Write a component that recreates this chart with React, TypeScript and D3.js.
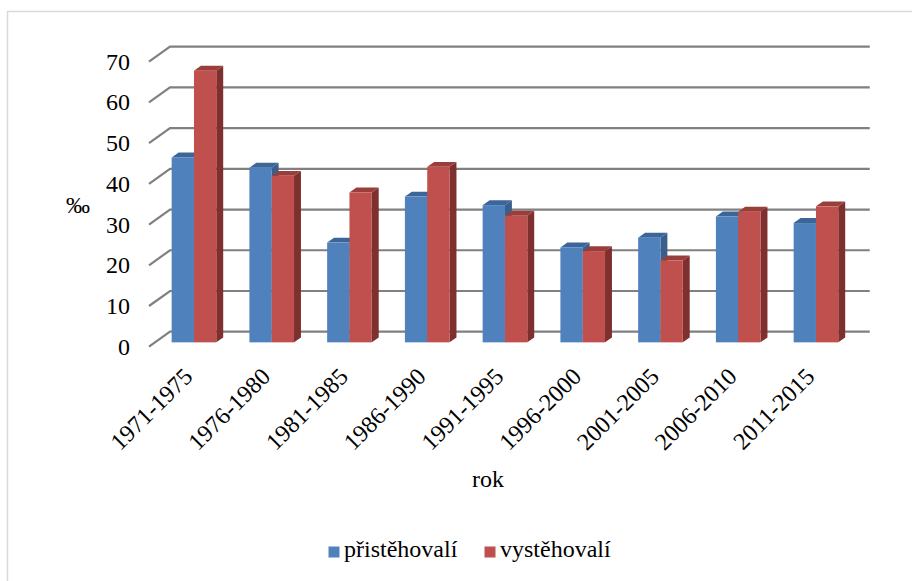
import React from "react";
import * as d3 from "d3";

const categories = ["1971-1975", "1976-1980", "1981-1985", "1986-1990", "1991-1995", "1996-2000", "2001-2005", "2006-2010", "2011-2015"];
const immigrants = [45.4, 42.9, 24.5, 35.8, 33.7, 23.3, 25.7, 30.9, 29.3];
const emigrants = [66.7, 40.9, 36.8, 43.1, 31.1, 22.4, 20.1, 32.1, 33.4];
const seriesNames = ["přistěhovalí", "vystěhovalí"];
const yTicks = [0, 10, 20, 30, 40, 50, 60, 70];

const W = 912;
const H = 581;
const FONT = "Liberation Serif";

const colors = {
  front: ["#4F81BD", "#C0504D"],
  top: ["#3C6699", "#993E3B"],
  side: ["#3A5F8C", "#7D302E"],
};

export default function App() {
  const DX = 21;
  const DY = -15;
  const fFront = 0.29;
  const fBack = 0.62;

  const x = d3.scaleBand<string>().domain(categories).range([149, 848.75]).padding(0);
  const y = d3.scaleLinear().domain([0, 70]).range([346.7, 61.7]);
  const groupW = x.bandwidth() * 0.574;
  const inner = d3.scaleBand<string>().domain(seriesNames).range([0, groupW]).padding(0);

  const bdx = DX * (fBack - fFront);
  const bdy = DY * (fBack - fFront);

  const series = [immigrants, emigrants];

  const bars: any[] = [];
  categories.forEach((c, i) => {
    const gx = (x(c) as number) + (x.bandwidth() - groupW) / 2 + DX * fFront;
    series.forEach((vals, s) => {
      const x0 = gx + (inner(seriesNames[s]) as number);
      const w = inner.bandwidth();
      const yTop = y(vals[i]) + DY * fFront;
      const yBase = y(0) + DY * fFront;
      const top = `M${x0},${yTop}L${x0 + bdx},${yTop + bdy}L${x0 + w + bdx},${yTop + bdy}L${x0 + w},${yTop}Z`;
      const side = `M${x0 + w},${yTop}L${x0 + w + bdx},${yTop + bdy}L${x0 + w + bdx},${yBase + bdy}L${x0 + w},${yBase}Z`;
      bars.push(
        <g key={`${c}-${s}`}>
          <path d={side} fill={colors.side[s]} />
          <path d={top} fill={colors.top[s]} />
          <rect x={x0} y={yTop} width={w} height={yBase - yTop} fill={colors.front[s]} />
        </g>
      );
    });
  });

  const x0Front = x.range()[0];
  const x1Back = x.range()[1] + DX;

  return (
    <svg width={W} height={H} style={{ position: "absolute", left: 0, top: 0, background: "#fff" }} fontFamily={FONT} fontSize={24}>
      <rect x={7.5} y={11.5} width={W + 20} height={H + 20} fill="#fff" stroke="#d9d9d9" strokeWidth={1.5} />
      {yTicks.map((t) => (
        <g key={t}>
          <path
            d={`M${x0Front},${y(t)}L${x0Front + DX},${y(t) + DY}L${x1Back},${y(t) + DY}`}
            fill="none"
            stroke="#808080"
            strokeWidth={2.2}
          />
          <text x={130} y={y(t) + 8} textAnchor="end" fill="#000">
            {t}
          </text>
        </g>
      ))}
      {bars}
      {categories.map((c) => {
        const cx = (x(c) as number) + x.bandwidth() / 2 + 6;
        const cy = 378;
        return (
          <text
            key={c}
            transform={`translate(${cx},${cy}) rotate(-45)`}
            textAnchor="end"
            fill="#000"
          >
            {c}
          </text>
        );
      })}
      <text x={66} y={213} fill="#000">‰</text>
      <text x={488} y={487} textAnchor="middle" fill="#000">rok</text>
      <rect x={328.5} y={546.5} width={11} height={11} fill={colors.front[0]} />
      <text x={344} y={557} fill="#000">{seriesNames[0]}</text>
      <rect x={484.5} y={546.5} width={11} height={11} fill={colors.front[1]} />
      <text x={500} y={557} fill="#000">{seriesNames[1]}</text>
    </svg>
  );
}
